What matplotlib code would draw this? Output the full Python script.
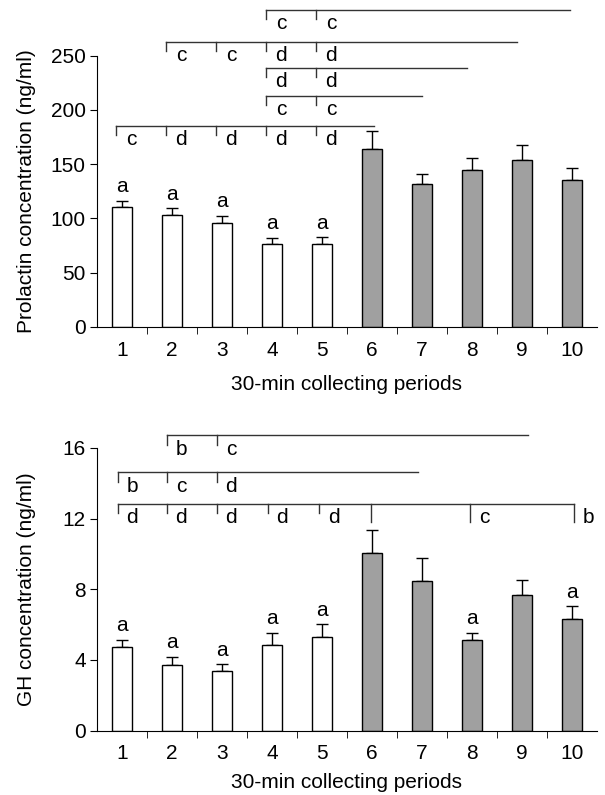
import matplotlib
matplotlib.use("Agg")
import matplotlib.pyplot as plt
import numpy as np

plt.rcParams['font.family'] = ['Liberation Sans', 'DejaVu Sans']

periods = list(range(1, 11))
tick_labels = [str(p) for p in periods]
xlabel = "30-min collecting periods"

# prolactin (ng/ml): mean and SEM
prl_mean = [110.8, 103.4, 96.0, 76.3, 76.6, 163.7, 132.0, 144.6, 153.9, 135.1]
prl_err = [5.5, 6.1, 6.5, 5.9, 5.9, 16.9, 9.2, 11.4, 13.5, 11.7]
prl_a = [1, 2, 3, 4, 5]

# GH (ng/ml): mean and SEM
gh_mean = [4.72, 3.72, 3.38, 4.83, 5.28, 10.06, 8.49, 5.15, 7.66, 6.34]
gh_err = [0.43, 0.45, 0.37, 0.70, 0.74, 1.30, 1.30, 0.40, 0.85, 0.70]
gh_a = [1, 2, 3, 4, 5, 8, 10]

# brackets: (level, line end, [(tick x, letter, long tick), ...])
prl_brackets = [
    (185.6, 6.05, [(0.89, 'c', 0), (1.89, 'd', 0), (2.89, 'd', 0), (3.89, 'd', 0), (4.89, 'd', 0)]),
    (213.0, 7.0, [(3.89, 'c', 0), (4.89, 'c', 0)]),
    (238.8, 7.9, [(3.89, 'd', 0), (4.89, 'd', 0)]),
    (263.0, 8.9, [(1.89, 'c', 0), (2.89, 'c', 0), (3.89, 'd', 0), (4.89, 'd', 0)]),
    (292.4, 9.95, [(3.89, 'c', 0), (4.89, 'c', 0)]),
]
gh_brackets = [
    (12.83, 10.04, [(0.92, 'd', 0), (1.9, 'd', 0), (2.9, 'd', 0), (3.92, 'd', 0), (4.94, 'd', 0),
                    (5.98, '', 1), (7.95, 'c', 1), (10.04, 'b', 1)]),
    (14.62, 6.92, [(0.92, 'b', 0), (1.9, 'c', 0), (2.9, 'd', 0)]),
    (16.7, 9.12, [(1.9, 'b', 0), (2.9, 'c', 0)]),
]

colors = ['white'] * 5 + ['#a0a0a0'] * 5
FS = 15
LINE = '#333333'

fig = plt.figure(figsize=(6.05, 7.95), dpi=100)
ax1 = fig.add_axes([0.160, 0.589, 0.827, 0.409])
ax2 = fig.add_axes([0.160, 0.081, 0.827, 0.389])


def draw_panel(ax, mean, err, a_list, brackets, ymax, ytop, ystep, ylabel, px_unit, xpad):
    x = np.array(periods)
    ax.bar(x, mean, width=0.4, color=colors, edgecolor='black', linewidth=1, zorder=2)
    ax.errorbar(x, mean, yerr=[np.zeros(len(err)), err], fmt='none', ecolor='black',
                elinewidth=1, capsize=4, capthick=1, zorder=1)
    off = 14 / px_unit
    for p in a_list:
        i = p - 1
        ax.text(p, mean[i] + err[i] + off, 'a', ha='center', va='center', fontsize=FS)

    tick = 9.5 / px_unit
    lab = 14 / px_unit
    for level, last, labels in brackets:
        ax.plot([labels[0][0], last], [level, level], color=LINE, lw=1, clip_on=False)
        for tx, letter, long in labels:
            tl = tick * (1.9 if long else 1)
            ax.plot([tx, tx], [level, level - tl], color=LINE, lw=1, clip_on=False)
            if letter:
                ax.text(tx + 0.29, level - lab, letter, ha='center', va='center', fontsize=FS)

    ax.set_xlim(0.5, 10.5)
    ax.set_ylim(0, ymax)
    ax.set_yticks(np.arange(0, ytop + 0.1, ystep))
    ax.spines['left'].set_bounds(0, ytop)
    ax.spines['top'].set_visible(False)
    ax.spines['right'].set_visible(False)
    ax.set_xticks(periods)
    ax.set_xticklabels(tick_labels)
    ax.set_xticks(np.arange(1.5, 10, 1), minor=True)
    ax.tick_params(axis='x', which='major', length=0, pad=10, labelsize=FS)
    ax.tick_params(axis='x', which='minor', length=5, direction='out')
    ax.tick_params(axis='y', length=5, direction='out', labelsize=FS, pad=3)
    ax.set_xlabel(xlabel, fontsize=FS, labelpad=xpad)
    ax.set_ylabel(ylabel, fontsize=FS)
    ax.yaxis.set_label_coords(-0.122, ytop / ymax / 2)


draw_panel(ax1, prl_mean, prl_err, prl_a, prl_brackets, 300, 250, 50,
           "Prolactin concentration (ng/ml)", 1.0833, 11)
draw_panel(ax2, gh_mean, gh_err, gh_a, gh_brackets, 17.5, 16, 4,
           "GH concentration (ng/ml)", 17.67, 7)

fig.savefig("out.png", dpi=100)
